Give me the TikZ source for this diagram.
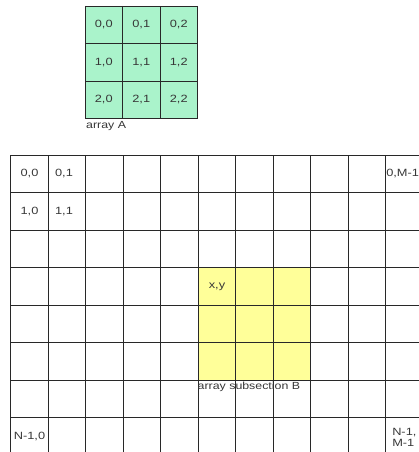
\documentclass[tikz,border=0pt]{standalone}
\usepackage{fontspec}
\setmainfont{Liberation Sans}
\definecolor{mint}{RGB}{170,243,203}
\definecolor{lemon}{RGB}{255,255,153}
\definecolor{gridline}{RGB}{40,40,40}
\definecolor{txt}{RGB}{55,55,55}
\tikzset{
  gline/.style={draw=gridline, line width=0.9pt},
  lbl/.style={font=\fontsize{10.5}{11}\selectfont, text=txt, inner sep=0pt, xscale=1.22, transform shape},
  captxt/.style={font=\fontsize{10.3}{11}\selectfont, text=txt, inner sep=0pt, anchor=west, xscale=1.2, transform shape},
}
\begin{document}
\begin{tikzpicture}[x=1pt,y=-1pt]
\useasboundingbox (0,0) rectangle (419,452);
% ---- array A ----
\fill[mint] (85,6) rectangle (197.5,118.5);
\foreach \i in {0,1,2,3} {
  \draw[gline] (85+37.5*\i,6) -- (85+37.5*\i,118.5);
  \draw[gline] (85,6+37.5*\i) -- (197.5,6+37.5*\i);
}
\foreach \r in {0,1,2} {
  \foreach \c in {0,1,2} {
    \node[lbl] (a\r\c) at (103.75+37.5*\c,25+37.5*\r) {\r,\c};
  }
}
\node[captxt] (capA) at (86,126) {array A};
% ---- big array ----
\fill[lemon] (198.2,267.5) rectangle (310.7,380);
\foreach \k in {0,...,11} {
  \draw[gline] (10.7+37.5*\k,155) -- (10.7+37.5*\k,452);
}
\foreach \j in {0,...,7} {
  \draw[gline] (10.7,155+37.5*\j) -- (419,155+37.5*\j);
}
\node[lbl] (b00) at (29.5,174) {0,0};
\node[lbl] (b01) at (64,174) {0,1};
\node[lbl] (b10) at (29.5,211.5) {1,0};
\node[lbl] (b11) at (64,211.5) {1,1};
\node[lbl, anchor=west] (b0M) at (386,174) {0,M-1};
\node[lbl] (bN0) at (29.5,436) {N-1,0};
\node[lbl, anchor=west, align=left] (bNM) at (392,437) {N-1,\\M-1};
\node[lbl] (bxy) at (217,287) {x,y};
\node[captxt] (capB) at (197.5,387) {array subsection B};
\end{tikzpicture}
\end{document}
